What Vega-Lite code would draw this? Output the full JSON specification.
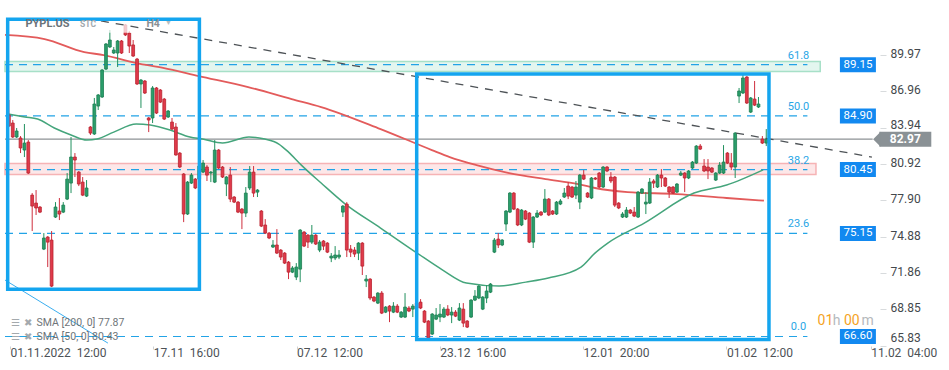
{
"$schema":"https://vega.github.io/schema/vega-lite/v6.json",
"width":880,"height":346,
"autosize":{"type":"none"},
"padding":{"left":0,"top":0,"right":69,"bottom":24},
"background":"#ffffff",
"config":{"view":{"stroke":null},"font":"Roboto"},
"resolve":{"axis":{"x":"independent","y":"independent"}},
"datasets":{
"candles":[
{"n":1,"o":84.97,"h":86.22,"l":83.98,"c":84.06},{"n":2,"o":84.31,"h":84.56,"l":83.07,"c":83.15},{"n":3,"o":83.15,"h":83.90,"l":83.07,"c":83.65},{"n":4,"o":83.07,"h":83.23,"l":81.82,"c":82.24},{"n":5,"o":82.07,"h":84.23,"l":81.49,"c":82.65},{"n":6,"o":82.73,"h":82.90,"l":80.08,"c":80.16},{"n":7,"o":78.33,"h":78.50,"l":75.35,"c":77.42},{"n":8,"o":77.67,"h":78.75,"l":76.68,"c":77.26},{"n":9,"o":77.34,"h":77.42,"l":76.84,"c":76.92},{"n":10,"o":73.85,"h":75.18,"l":73.77,"c":74.77},
{"n":11,"o":74.85,"h":74.93,"l":72.36,"c":74.43},{"n":12,"o":74.60,"h":75.35,"l":70.70,"c":70.78},{"n":13,"o":76.51,"h":77.75,"l":76.43,"c":77.34},{"n":14,"o":77.01,"h":78.09,"l":76.26,"c":76.76},{"n":15,"o":76.92,"h":77.75,"l":76.84,"c":77.50},{"n":16,"o":78.00,"h":80.16,"l":77.92,"c":79.66},{"n":17,"o":79.33,"h":83.15,"l":78.50,"c":81.49},{"n":18,"o":81.49,"h":81.82,"l":79.83,"c":81.24},{"n":19,"o":80.24,"h":80.33,"l":79.08,"c":79.25},{"n":20,"o":79.41,"h":79.83,"l":78.25,"c":78.33},
{"n":21,"o":78.25,"h":79.58,"l":78.17,"c":78.92},{"n":22,"o":83.98,"h":84.06,"l":83.32,"c":83.48},{"n":23,"o":83.40,"h":86.39,"l":83.32,"c":85.89},{"n":24,"o":85.72,"h":86.72,"l":85.39,"c":86.64},{"n":25,"o":86.47,"h":88.79,"l":86.39,"c":88.71},{"n":26,"o":88.79,"h":90.95,"l":88.71,"c":90.87},{"n":27,"o":90.62,"h":92.03,"l":90.54,"c":91.20},{"n":28,"o":90.12,"h":90.62,"l":90.04,"c":90.37},{"n":29,"o":90.12,"h":91.20,"l":88.96,"c":91.12},{"n":30,"o":91.12,"h":91.20,"l":90.04,"c":90.12},
{"n":31,"o":92.45,"h":92.53,"l":91.53,"c":91.62},{"n":32,"o":91.78,"h":91.95,"l":90.12,"c":90.70},{"n":33,"o":90.79,"h":91.20,"l":89.80,"c":89.87},{"n":34,"o":89.62,"h":89.71,"l":87.47,"c":87.55},{"n":35,"o":87.55,"h":87.96,"l":85.56,"c":87.88},{"n":36,"o":87.80,"h":87.88,"l":86.72,"c":86.80},{"n":37,"o":84.73,"h":84.81,"l":83.56,"c":84.56},{"n":38,"o":84.73,"h":87.38,"l":84.31,"c":87.22},{"n":39,"o":87.22,"h":87.30,"l":85.06,"c":85.14},{"n":40,"o":87.05,"h":87.13,"l":85.97,"c":86.05},
{"n":41,"o":86.30,"h":86.39,"l":84.56,"c":84.64},{"n":42,"o":84.81,"h":85.39,"l":84.73,"c":85.31},{"n":43,"o":84.39,"h":84.73,"l":83.73,"c":83.81},{"n":44,"o":83.98,"h":84.31,"l":81.60,"c":81.66},{"n":45,"o":81.82,"h":81.90,"l":80.58,"c":80.66},{"n":46,"o":80.08,"h":80.16,"l":76.09,"c":76.76},{"n":47,"o":76.76,"h":79.50,"l":76.68,"c":79.41},{"n":48,"o":79.33,"h":80.16,"l":79.25,"c":79.99},{"n":49,"o":79.66,"h":79.75,"l":78.83,"c":78.92},{"n":50,"o":79.66,"h":80.99,"l":79.58,"c":80.74},
{"n":51,"o":80.24,"h":81.24,"l":80.16,"c":80.99},{"n":52,"o":80.66,"h":80.82,"l":79.50,"c":79.99},{"n":53,"o":80.16,"h":80.33,"l":79.41,"c":80.24},{"n":54,"o":79.41,"h":82.90,"l":79.33,"c":82.07},{"n":55,"o":82.07,"h":82.15,"l":80.49,"c":80.58},{"n":56,"o":80.66,"h":80.74,"l":79.75,"c":79.83},{"n":57,"o":79.25,"h":79.91,"l":78.25,"c":79.83},{"n":58,"o":79.99,"h":80.66,"l":77.75,"c":78.00},{"n":59,"o":78.17,"h":78.25,"l":77.67,"c":77.75},{"n":60,"o":77.75,"h":77.84,"l":76.84,"c":76.92},
{"n":61,"o":77.17,"h":77.26,"l":75.51,"c":76.84},{"n":62,"o":76.84,"h":79.00,"l":76.51,"c":78.50},{"n":63,"o":78.92,"h":80.74,"l":78.75,"c":80.24},{"n":64,"o":80.24,"h":80.74,"l":78.17,"c":78.50},{"n":65,"o":78.58,"h":78.83,"l":78.17,"c":78.75},{"n":66,"o":77.01,"h":77.09,"l":75.68,"c":75.76},{"n":67,"o":75.85,"h":76.34,"l":75.10,"c":75.18},{"n":68,"o":75.18,"h":75.26,"l":74.68,"c":74.77},{"n":69,"o":74.02,"h":74.60,"l":73.94,"c":74.19},{"n":70,"o":74.19,"h":75.51,"l":73.44,"c":73.52},
{"n":71,"o":73.77,"h":73.85,"l":72.94,"c":73.19},{"n":72,"o":73.52,"h":73.60,"l":72.61,"c":72.69},{"n":73,"o":72.77,"h":72.86,"l":71.36,"c":71.94},{"n":74,"o":71.94,"h":72.44,"l":71.86,"c":72.28},{"n":75,"o":71.53,"h":72.69,"l":71.28,"c":72.36},{"n":76,"o":72.19,"h":75.51,"l":71.11,"c":75.43},{"n":77,"o":75.26,"h":75.35,"l":74.02,"c":74.10},{"n":78,"o":75.01,"h":75.10,"l":73.94,"c":74.43},{"n":79,"o":74.43,"h":75.85,"l":74.27,"c":75.01},{"n":80,"o":75.01,"h":75.10,"l":74.19,"c":74.27},
{"n":81,"o":73.77,"h":74.60,"l":73.60,"c":74.43},{"n":82,"o":74.52,"h":74.60,"l":73.77,"c":74.10},{"n":83,"o":74.35,"h":74.43,"l":73.52,"c":73.60},{"n":84,"o":73.11,"h":73.52,"l":72.77,"c":73.27},{"n":85,"o":73.11,"h":74.10,"l":72.94,"c":73.36},{"n":86,"o":73.19,"h":73.77,"l":73.02,"c":73.36},{"n":87,"o":76.92,"h":77.50,"l":76.51,"c":77.42},{"n":88,"o":77.59,"h":77.75,"l":73.19,"c":73.77},{"n":89,"o":73.85,"h":74.19,"l":73.19,"c":73.60},{"n":90,"o":73.77,"h":74.02,"l":73.19,"c":73.44},
{"n":91,"o":73.52,"h":74.43,"l":72.94,"c":74.35},{"n":92,"o":74.35,"h":74.43,"l":71.70,"c":72.44},{"n":93,"o":71.20,"h":71.70,"l":70.70,"c":71.36},{"n":94,"o":71.36,"h":71.44,"l":69.62,"c":69.79},{"n":95,"o":69.87,"h":69.95,"l":69.45,"c":69.54},{"n":96,"o":69.37,"h":70.28,"l":69.29,"c":70.20},{"n":97,"o":70.20,"h":70.37,"l":68.46,"c":68.54},{"n":98,"o":68.62,"h":69.12,"l":68.54,"c":69.04},{"n":99,"o":69.12,"h":69.20,"l":67.79,"c":68.71},{"n":100,"o":68.62,"h":69.45,"l":68.54,"c":69.12},
{"n":101,"o":69.12,"h":69.29,"l":68.54,"c":68.62},{"n":102,"o":68.21,"h":68.71,"l":68.13,"c":68.62},{"n":103,"o":68.21,"h":70.20,"l":68.13,"c":69.04},{"n":104,"o":68.96,"h":69.12,"l":68.62,"c":68.71},{"n":105,"o":68.87,"h":69.29,"l":68.21,"c":69.12},{"n":106,"o":69.37,"h":69.62,"l":68.79,"c":68.96},{"n":107,"o":69.45,"h":69.70,"l":68.87,"c":68.96},{"n":108,"o":68.71,"h":68.79,"l":67.71,"c":67.79},{"n":109,"o":67.88,"h":67.96,"l":66.30,"c":66.47},{"n":110,"o":66.80,"h":68.54,"l":66.72,"c":68.46},
{"n":111,"o":68.04,"h":68.96,"l":67.96,"c":68.38},{"n":112,"o":68.21,"h":69.29,"l":67.79,"c":68.46},{"n":113,"o":68.21,"h":69.04,"l":68.13,"c":68.87},{"n":114,"o":68.87,"h":69.20,"l":68.29,"c":68.38},{"n":115,"o":68.38,"h":69.04,"l":67.71,"c":68.62},{"n":116,"o":68.62,"h":68.79,"l":68.21,"c":68.29},{"n":117,"o":67.96,"h":69.37,"l":67.88,"c":68.96},{"n":118,"o":68.87,"h":69.37,"l":67.38,"c":67.71},{"n":119,"o":67.88,"h":67.96,"l":67.30,"c":67.38},{"n":120,"o":68.21,"h":69.70,"l":68.13,"c":69.62},
{"n":121,"o":69.62,"h":70.45,"l":69.54,"c":69.95},{"n":122,"o":69.79,"h":70.86,"l":69.70,"c":70.78},{"n":123,"o":68.87,"h":69.95,"l":68.79,"c":69.87},{"n":124,"o":69.79,"h":70.86,"l":69.37,"c":70.37},{"n":125,"o":70.28,"h":71.03,"l":70.20,"c":70.95},{"n":126,"o":73.60,"h":74.77,"l":73.52,"c":74.60},{"n":127,"o":74.68,"h":75.18,"l":73.94,"c":74.19},{"n":128,"o":74.19,"h":74.68,"l":74.10,"c":74.60},{"n":129,"o":75.93,"h":77.09,"l":75.35,"c":77.01},{"n":130,"o":76.92,"h":78.58,"l":76.84,"c":78.50},
{"n":131,"o":78.50,"h":78.58,"l":77.09,"c":77.17},{"n":132,"o":77.17,"h":77.26,"l":75.76,"c":75.85},{"n":133,"o":75.85,"h":77.17,"l":75.76,"c":77.09},{"n":134,"o":77.01,"h":77.09,"l":76.26,"c":76.34},{"n":135,"o":76.84,"h":76.92,"l":74.35,"c":74.43},{"n":136,"o":74.43,"h":76.59,"l":73.94,"c":76.51},{"n":137,"o":76.51,"h":77.09,"l":76.43,"c":76.84},{"n":138,"o":76.92,"h":77.01,"l":76.59,"c":76.68},{"n":139,"o":76.92,"h":78.83,"l":76.84,"c":78.00},{"n":140,"o":78.00,"h":78.09,"l":76.59,"c":76.68},
{"n":141,"o":77.01,"h":77.09,"l":76.68,"c":76.76},{"n":142,"o":76.76,"h":77.84,"l":76.68,"c":77.75},{"n":143,"o":77.59,"h":78.00,"l":77.50,"c":77.84},{"n":144,"o":78.17,"h":78.92,"l":78.09,"c":78.50},{"n":145,"o":79.08,"h":79.41,"l":78.00,"c":78.25},{"n":146,"o":79.00,"h":79.08,"l":78.09,"c":78.17},{"n":147,"o":78.33,"h":79.50,"l":78.00,"c":79.00},{"n":148,"o":77.75,"h":80.08,"l":77.17,"c":79.99},{"n":149,"o":79.99,"h":80.41,"l":79.58,"c":79.66},{"n":150,"o":78.50,"h":78.58,"l":78.09,"c":78.17},
{"n":151,"o":78.09,"h":79.83,"l":78.00,"c":79.75},{"n":152,"o":79.75,"h":79.83,"l":79.58,"c":79.66},{"n":153,"o":80.16,"h":80.24,"l":78.92,"c":79.00},{"n":154,"o":79.00,"h":80.74,"l":78.92,"c":80.66},{"n":155,"o":80.66,"h":80.74,"l":80.24,"c":80.33},{"n":156,"o":79.83,"h":80.24,"l":79.33,"c":79.50},{"n":157,"o":79.83,"h":79.91,"l":77.34,"c":77.50},{"n":158,"o":77.67,"h":77.75,"l":77.17,"c":77.26},{"n":159,"o":76.51,"h":76.92,"l":76.43,"c":76.76},{"n":160,"o":76.51,"h":77.34,"l":76.43,"c":77.09},
{"n":161,"o":77.09,"h":77.17,"l":76.76,"c":76.84},{"n":162,"o":76.92,"h":77.34,"l":76.51,"c":76.59},{"n":163,"o":76.51,"h":78.67,"l":76.43,"c":78.58},{"n":164,"o":78.50,"h":78.92,"l":78.42,"c":78.83},{"n":165,"o":77.59,"h":78.58,"l":76.76,"c":77.75},{"n":166,"o":77.67,"h":79.75,"l":77.59,"c":79.41},{"n":167,"o":79.50,"h":79.66,"l":78.92,"c":79.33},{"n":168,"o":79.00,"h":80.08,"l":78.92,"c":79.99},{"n":169,"o":79.99,"h":80.49,"l":79.00,"c":79.75},{"n":170,"o":79.75,"h":79.83,"l":79.00,"c":79.08},
{"n":171,"o":79.00,"h":79.08,"l":78.09,"c":78.58},{"n":172,"o":79.00,"h":79.08,"l":78.42,"c":78.50},{"n":173,"o":78.58,"h":79.33,"l":78.50,"c":79.25},{"n":174,"o":79.99,"h":80.33,"l":79.91,"c":80.16},{"n":175,"o":80.16,"h":80.24,"l":78.58,"c":79.75},{"n":176,"o":79.75,"h":80.41,"l":79.66,"c":80.33},{"n":177,"o":80.58,"h":81.16,"l":80.49,"c":81.07},{"n":178,"o":80.99,"h":82.48,"l":80.91,"c":82.40},{"n":179,"o":82.40,"h":82.57,"l":82.07,"c":82.15},{"n":180,"o":80.74,"h":81.32,"l":80.24,"c":80.33},
{"n":181,"o":80.66,"h":81.32,"l":79.66,"c":80.33},{"n":182,"o":80.58,"h":80.66,"l":80.16,"c":80.24},{"n":183,"o":79.58,"h":80.24,"l":79.50,"c":80.16},{"n":184,"o":80.16,"h":81.07,"l":80.08,"c":80.82},{"n":185,"o":80.16,"h":82.48,"l":80.08,"c":81.07},{"n":186,"o":81.82,"h":81.90,"l":80.91,"c":80.99},{"n":187,"o":80.99,"h":81.82,"l":80.41,"c":80.66},{"n":188,"o":80.66,"h":83.56,"l":79.75,"c":83.48},{"n":189,"o":86.55,"h":87.22,"l":85.97,"c":86.97},{"n":190,"o":86.80,"h":88.38,"l":86.72,"c":88.05},
{"n":191,"o":88.13,"h":88.21,"l":85.89,"c":85.97},{"n":192,"o":85.22,"h":86.47,"l":85.14,"c":86.39},{"n":193,"o":86.30,"h":87.80,"l":85.72,"c":85.80},{"n":194,"o":85.64,"h":86.47,"l":85.56,"c":85.89},{"n":195,"o":82.98,"h":83.23,"l":82.57,"c":82.65},{"n":196,"o":82.65,"h":83.81,"l":82.40,"c":82.97}
],
"sma200":[
{"n":0,"p":91.62},{"n":10.2,"p":91.28},{"n":20.4,"p":90.20},{"n":25.4,"p":89.95},{"n":33.8,"p":89.29},{"n":40.7,"p":88.88},{"n":49.9,"p":88.21},{"n":62.6,"p":87.30},{"n":73.8,"p":86.30},{"n":81.4,"p":85.64},{"n":96.7,"p":83.81},{"n":109.9,"p":82.07},{"n":114.5,"p":81.49},{"n":121.4,"p":80.82},{"n":129.8,"p":80.16},{"n":139.2,"p":79.66},{"n":147.6,"p":79.25},{"n":151.9,"p":78.92},{"n":160.3,"p":78.58},{"n":173.0,"p":78.42},{"n":185.8,"p":78.09},{"n":195.4,"p":77.87}
],
"sma50":[
{"n":0.8,"p":85.06},{"n":5.1,"p":84.81},{"n":8.4,"p":84.64},{"n":12.7,"p":83.90},{"n":17.0,"p":83.32},{"n":21.1,"p":82.90},{"n":23.7,"p":82.98},{"n":28.0,"p":83.56},{"n":33.8,"p":84.23},{"n":37.4,"p":84.14},{"n":42.5,"p":83.73},{"n":47.6,"p":83.15},{"n":50.9,"p":82.98},{"n":56.0,"p":82.65},{"n":62.8,"p":83.15},{"n":66.9,"p":82.98},{"n":70.5,"p":82.57},{"n":73.0,"p":81.90},{"n":76.3,"p":80.82},{"n":81.4,"p":79.33},{"n":87.3,"p":77.67},{"n":96.7,"p":75.60},{"n":106.1,"p":73.52},{"n":112.7,"p":72.11},{"n":118.8,"p":71.03},{"n":127.2,"p":70.78},{"n":134.1,"p":71.11},{"n":139.9,"p":71.45},{"n":148.3,"p":72.36},{"n":151.9,"p":73.52},{"n":155.2,"p":74.35},{"n":164.6,"p":76.01},{"n":177.4,"p":78.50},{"n":185.8,"p":79.17},{"n":195.2,"p":80.43}
],
"fib":[
{"lv":"61.8","p":89.15,"b":"89.15","x0":0,"x1":206.6,"lx":204.3,"bx":219.6},
{"lv":"50.0","p":84.90,"b":"84.90","x0":0,"x1":206.6,"lx":204.3,"bx":219.6},
{"lv":"38.2","p":80.45,"b":"80.45","x0":0,"x1":206.6,"lx":204.3,"bx":219.6},
{"lv":"23.6","p":75.15,"b":"75.15","x0":0,"x1":206.6,"lx":204.3,"bx":219.6},
{"lv":"0.0","p":66.60,"b":"66.60","x0":0,"x1":206.6,"lx":204.3,"bx":219.6}
],
"last":[{"p":82.97,"t":"82.97","x0":0,"x1":223.4,"bx":231.8,"ax":225.45}]
},
"layer":[
{"data":{"values":[{"a":0,"b":209.9,"top":89.42,"bot":88.59}]},
 "mark":{"type":"rect","fill":"#e3f6ef","stroke":"#a7e0c8","strokeWidth":1.5},
 "encoding":{"x":{"field":"a","type":"quantitative","scale":{"domain":[0,224],"nice":false,"zero":false},"axis":null},"x2":{"field":"b"},"y":{"field":"top","type":"quantitative","scale":{"domain":[65.81,94.52],"nice":false,"zero":false},"axis":null},"y2":{"field":"bot"}}},
{"data":{"values":[{"a":0,"b":208.8,"top":80.95,"bot":80.04}]},
 "mark":{"type":"rect","fill":"#fde7e8","stroke":"#f6b3b5","strokeWidth":1.5},
 "encoding":{"x":{"field":"a","type":"quantitative","scale":{"domain":[0,224],"nice":false,"zero":false},"axis":null},"x2":{"field":"b"},"y":{"field":"top","type":"quantitative","scale":{"domain":[65.81,94.52],"nice":false,"zero":false},"axis":null},"y2":{"field":"bot"}}},
{"data":{"name":"fib"},
 "mark":{"type":"rule","color":"#22a3e6","strokeDash":[8,6],"strokeWidth":1.2},
 "encoding":{"x":{"field":"x0","type":"quantitative","scale":{"domain":[0,224],"nice":false,"zero":false},"axis":null},"x2":{"field":"x1"},"y":{"field":"p","type":"quantitative","scale":{"domain":[65.81,94.52],"nice":false,"zero":false},"axis":null}}},
{"data":{"name":"last"},
 "mark":{"type":"rule","color":"#8d9295","strokeWidth":1.2},
 "encoding":{"x":{"field":"x0","type":"quantitative","scale":{"domain":[0,224],"nice":false,"zero":false},"axis":null},"x2":{"field":"x1"},"y":{"field":"p","type":"quantitative","scale":{"domain":[65.81,94.52],"nice":false,"zero":false},"axis":null}}},
{"data":{"name":"sma200"},
 "mark":{"type":"line","color":"#e35b5b","strokeWidth":1.8,"interpolate":"monotone"},
 "encoding":{"x":{"field":"n","type":"quantitative","scale":{"domain":[0,224],"nice":false,"zero":false},"axis":null},"y":{"field":"p","type":"quantitative","scale":{"domain":[65.81,94.52],"nice":false,"zero":false},"axis":null}}},
{"data":{"name":"sma50"},
 "mark":{"type":"line","color":"#45a57c","strokeWidth":1.5,"interpolate":"monotone"},
 "encoding":{"x":{"field":"n","type":"quantitative","scale":{"domain":[0,224],"nice":false,"zero":false},"axis":null},"y":{"field":"p","type":"quantitative","scale":{"domain":[65.81,94.52],"nice":false,"zero":false},"axis":null}}},
{"data":{"name":"candles"},
 "mark":{"type":"rule","strokeWidth":1},
 "encoding":{"x":{"field":"n","type":"quantitative","scale":{"domain":[0,224],"nice":false,"zero":false},"axis":null},"y":{"field":"l","type":"quantitative","scale":{"domain":[65.81,94.52],"nice":false,"zero":false},"axis":null},"y2":{"field":"h"},
  "color":{"condition":{"test":"datum.c >= datum.o","value":"#22915f"},"value":"#cf2f3e"}}},
{"data":{"name":"candles"},
 "mark":{"type":"bar","size":2.8,"strokeWidth":0.8},
 "encoding":{
  "x":{"field":"n","type":"quantitative","scale":{"domain":[0,224],"nice":false,"zero":false},
   "axis":{"title":null,"values":[1.27,38.17,75.06,111.96,148.85,185.75,222.9],
    "labelExpr":"datum.value < 20 ? '01.11.2022\u00a0 12:00' : datum.value < 60 ? '17.11\u00a0 16:00' : datum.value < 90 ? '07.12\u00a0 12:00' : datum.value < 130 ? '23.12\u00a0 16:00' : datum.value < 160 ? '12.01\u00a0 20:00' : datum.value < 200 ? '01.02\u00a0 12:00' : '11.02\u00a0 04:00'",
    "grid":false,"domain":false,"tickSize":3,"tickColor":"#cdd1d4","labelAlign":"left","labelBaseline":"top","labelPadding":-2,"labelFontSize":12,"labelColor":"#4d5256","labelOverlap":false,"labelFlush":false,"labelBound":false}},
  "y":{"field":"o","type":"quantitative","scale":{"domain":[65.81,94.52],"nice":false,"zero":false},
   "axis":{"title":null,"orient":"right","values":[65.83,68.85,71.86,74.88,77.90,80.92,83.94,86.96,89.97],"format":".2f",
    "grid":false,"domain":false,"tickSize":6,"tickColor":"#d8dbdd","labelPadding":4,"labelFontSize":12,"labelColor":"#43484c","labelOverlap":false,"labelFlush":false,
    "labelOffset":{"condition":{"test":"datum.value > 83.9 && datum.value < 84","value":-3},"value":-1.5},
    "labelBaseline":{"condition":{"test":"datum.value < 66","value":"bottom"},"value":"middle"}}},
  "y2":{"field":"c"},
  "color":{"condition":{"test":"datum.c >= datum.o","value":"#2a9e6b"},"value":"#e03a4b"},
  "stroke":{"condition":{"test":"datum.c >= datum.o","value":"#1d7d52"},"value":"#b9232f"}}},
{"data":{"values":[{"a":0,"b":45.8,"top":94.52,"bot":91.8}]},
 "mark":{"type":"rect","fill":"#ffffff","opacity":0.72},
 "encoding":{"x":{"field":"a","type":"quantitative","scale":{"domain":[0,224],"nice":false,"zero":false},"axis":null},"x2":{"field":"b"},"y":{"field":"top","type":"quantitative","scale":{"domain":[65.81,94.52],"nice":false,"zero":false},"axis":null},"y2":{"field":"bot"}}},
{"data":{"values":[{"n":24.7,"p":92.78},{"n":223.2,"p":81.49}]},
 "mark":{"type":"line","color":"#4d5256","strokeWidth":1.3,"strokeDash":[8,7]},
 "encoding":{"x":{"field":"n","type":"quantitative","scale":{"domain":[0,224],"nice":false,"zero":false},"axis":null},"y":{"field":"p","type":"quantitative","scale":{"domain":[65.81,94.52],"nice":false,"zero":false},"axis":null}}},
{"data":{"values":[{"n":0,"p":71.28},{"n":26.5,"p":66.05}]},
 "mark":{"type":"line","color":"#3aaef0","strokeWidth":1},
 "encoding":{"x":{"field":"n","type":"quantitative","scale":{"domain":[0,224],"nice":false,"zero":false},"axis":null},"y":{"field":"p","type":"quantitative","scale":{"domain":[65.81,94.52],"nice":false,"zero":false},"axis":null}}},
{"data":{"values":[{"a":0.69,"b":50.05,"top":92.92,"bot":70.52},{"a":106.0,"b":196.7,"top":88.38,"bot":66.34}]},
 "mark":{"type":"rect","fill":"transparent","stroke":"#14a5ef","strokeWidth":3.5},
 "encoding":{"x":{"field":"a","type":"quantitative","scale":{"domain":[0,224],"nice":false,"zero":false},"axis":null},"x2":{"field":"b"},"y":{"field":"top","type":"quantitative","scale":{"domain":[65.81,94.52],"nice":false,"zero":false},"axis":null},"y2":{"field":"bot"}}},
{"data":{"name":"fib"},
 "mark":{"type":"text","fontSize":11,"color":"#2aa6e6","dy":-9,"align":"center"},
 "encoding":{"x":{"field":"lx","type":"quantitative","scale":{"domain":[0,224],"nice":false,"zero":false},"axis":null},"y":{"field":"p","type":"quantitative","scale":{"domain":[65.81,94.52],"nice":false,"zero":false},"axis":null},"text":{"field":"lv"}}},
{"data":{"name":"fib"},
 "mark":{"type":"tick","orient":"vertical","thickness":36,"size":15,"color":"#1289f0","opacity":1},
 "encoding":{"x":{"field":"bx","type":"quantitative","scale":{"domain":[0,224],"nice":false,"zero":false},"axis":null},"y":{"field":"p","type":"quantitative","scale":{"domain":[65.81,94.52],"nice":false,"zero":false},"axis":null}}},
{"data":{"name":"fib"},
 "mark":{"type":"text","fontSize":11.5,"color":"#ffffff","align":"center","baseline":"middle"},
 "encoding":{"x":{"field":"bx","type":"quantitative","scale":{"domain":[0,224],"nice":false,"zero":false},"axis":null},"y":{"field":"p","type":"quantitative","scale":{"domain":[65.81,94.52],"nice":false,"zero":false},"axis":null},"text":{"field":"b"}}},
{"data":{"name":"last"},
 "mark":{"type":"tick","orient":"vertical","thickness":52,"size":15,"color":"#8a9195","opacity":1},
 "encoding":{"x":{"field":"bx","type":"quantitative","scale":{"domain":[0,224],"nice":false,"zero":false},"axis":null},"y":{"field":"p","type":"quantitative","scale":{"domain":[65.81,94.52],"nice":false,"zero":false},"axis":null}}},
{"data":{"name":"last"},
 "mark":{"type":"point","shape":"M-1,0L0,-1L0,1Z","size":225,"filled":true,"color":"#8a9195","opacity":1,"strokeWidth":0},
 "encoding":{"x":{"field":"ax","type":"quantitative","scale":{"domain":[0,224],"nice":false,"zero":false},"axis":null},"y":{"field":"p","type":"quantitative","scale":{"domain":[65.81,94.52],"nice":false,"zero":false},"axis":null}}},
{"data":{"name":"last"},
 "mark":{"type":"text","fontSize":12,"fontWeight":"bold","color":"#ffffff","align":"center","baseline":"middle"},
 "encoding":{"x":{"field":"bx","type":"quantitative","scale":{"domain":[0,224],"nice":false,"zero":false},"axis":null},"y":{"field":"p","type":"quantitative","scale":{"domain":[65.81,94.52],"nice":false,"zero":false},"axis":null},"text":{"field":"t"}}},
{"data":{"values":[{"t":"PYPL.US","n":5.27,"p":92.55}]},
 "mark":{"type":"text","fontSize":11,"fontWeight":"bold","color":"#6b7378","align":"left","baseline":"middle"},
 "encoding":{"x":{"field":"n","type":"quantitative","scale":{"domain":[0,224],"nice":false,"zero":false},"axis":null},"y":{"field":"p","type":"quantitative","scale":{"domain":[65.81,94.52],"nice":false,"zero":false},"axis":null},"text":{"field":"t"}}},
{"data":{"values":[{"t":"STC","n":19.34,"p":92.49}]},
 "mark":{"type":"text","fontSize":8.5,"fontWeight":"bold","color":"#a3a9ad","align":"left","baseline":"middle"},
 "encoding":{"x":{"field":"n","type":"quantitative","scale":{"domain":[0,224],"nice":false,"zero":false},"axis":null},"y":{"field":"p","type":"quantitative","scale":{"domain":[65.81,94.52],"nice":false,"zero":false},"axis":null},"text":{"field":"t"}}},
{"data":{"values":[{"t":"H4","n":36.4,"p":92.55}]},
 "mark":{"type":"text","fontSize":10.5,"fontWeight":"bold","color":"#8a9095","align":"left","baseline":"middle"},
 "encoding":{"x":{"field":"n","type":"quantitative","scale":{"domain":[0,224],"nice":false,"zero":false},"axis":null},"y":{"field":"p","type":"quantitative","scale":{"domain":[65.81,94.52],"nice":false,"zero":false},"axis":null},"text":{"field":"t"}}},
{"data":{"values":[{"t":"▼","n":41.2,"p":92.62}]},
 "mark":{"type":"text","fontSize":7,"color":"#b8bdc0","align":"left","baseline":"middle"},
 "encoding":{"x":{"field":"n","type":"quantitative","scale":{"domain":[0,224],"nice":false,"zero":false},"axis":null},"y":{"field":"p","type":"quantitative","scale":{"domain":[65.81,94.52],"nice":false,"zero":false},"axis":null},"text":{"field":"t"}}},
{"data":{"values":[{"t":"SMA [200, 0] 77.87","n":8.14,"p":67.71},{"t":"SMA [50, 0] 80.43","n":8.14,"p":66.55}]},
 "mark":{"type":"text","fontSize":10.5,"color":"#6f7579","align":"left","baseline":"middle"},
 "encoding":{"x":{"field":"n","type":"quantitative","scale":{"domain":[0,224],"nice":false,"zero":false},"axis":null},"y":{"field":"p","type":"quantitative","scale":{"domain":[65.81,94.52],"nice":false,"zero":false},"axis":null},"text":{"field":"t"}}},
{"data":{"values":[{"t":"☰","n":2.8,"p":67.71},{"t":"☰","n":2.8,"p":66.55},{"t":"✖","n":6.0,"p":67.71},{"t":"✖","n":6.0,"p":66.55}]},
 "mark":{"type":"text","fontSize":9.5,"color":"#a4a9ad","align":"center","baseline":"middle"},
 "encoding":{"x":{"field":"n","type":"quantitative","scale":{"domain":[0,224],"nice":false,"zero":false},"axis":null},"y":{"field":"p","type":"quantitative","scale":{"domain":[65.81,94.52],"nice":false,"zero":false},"axis":null},"text":{"field":"t"}}},
{"data":{"values":[{"t":"01","n":209.2,"p":67.88},{"t":"00","n":216.0,"p":67.88}]},
 "mark":{"type":"text","fontSize":14,"color":"#f5a31f","align":"left","baseline":"middle"},
 "encoding":{"x":{"field":"n","type":"quantitative","scale":{"domain":[0,224],"nice":false,"zero":false},"axis":null},"y":{"field":"p","type":"quantitative","scale":{"domain":[65.81,94.52],"nice":false,"zero":false},"axis":null},"text":{"field":"t"}}},
{"data":{"values":[{"t":"h","n":213.1,"p":67.88},{"t":"m","n":220.5,"p":67.88}]},
 "mark":{"type":"text","fontSize":14,"color":"#b5b9bc","align":"left","baseline":"middle"},
 "encoding":{"x":{"field":"n","type":"quantitative","scale":{"domain":[0,224],"nice":false,"zero":false},"axis":null},"y":{"field":"p","type":"quantitative","scale":{"domain":[65.81,94.52],"nice":false,"zero":false},"axis":null},"text":{"field":"t"}}}
]
}
